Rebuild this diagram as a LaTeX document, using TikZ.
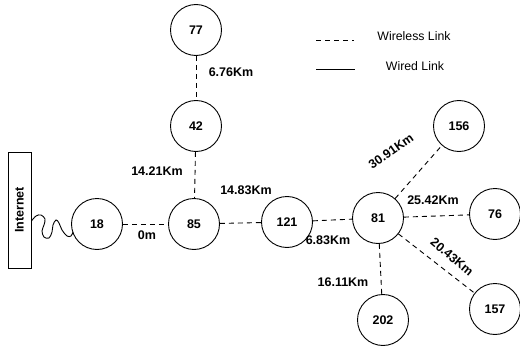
\documentclass[tikz,border=0pt]{standalone}
\usepackage{fontspec}
\setmainfont{Liberation Sans}
\usetikzlibrary{calc}
\begin{document}
\begin{tikzpicture}[x=1pt,y=1pt,
  station/.style={circle,draw,line width=0.9pt,minimum size=51pt,inner sep=0pt,font=\fontsize{12.5}{14}\selectfont\bfseries},
  wireless/.style={line width=0.9pt,dash pattern=on 5pt off 4pt},
  wired/.style={line width=0.9pt},
  dist/.style={font=\fontsize{12.5}{14}\selectfont\bfseries,inner sep=0pt},
  legendtext/.style={font=\fontsize{12.3}{14}\selectfont,inner sep=0pt}]
\useasboundingbox (0,0) rectangle (520,349);

% Internet gateway box
\node[draw,line width=0.9pt,minimum width=23pt,minimum height=116pt,inner sep=0pt] (inet) at (19.5,139) {};
\node[rotate=90,dist] (inetlabel) at (inet.center) {Internet};

% stations
\node[station] (n77)  at (196,319) {77};
\node[station] (n42)  at (196,223) {42};
\node[station] (n85)  at (194,125) {85};
\node[station] (n18)  at (97,125)  {18};
\node[station] (n121) at (287,127) {121};
\node[station] (n81)  at (378,131) {81};
\node[station] (n156) at (459,223) {156};
\node[station] (n76)  at (495,135) {76};
\node[station] (n157) at (495,40)  {157};
\node[station] (n202) at (383,29)  {202};

% wired link from the gateway to node 18
\coordinate (wa) at (inet.east |- 0,128);
\coordinate (wb) at ($(n18.center)+(-24,-8)$);
\draw[wired] plot[smooth,tension=0.6] coordinates {(wa) (36,133) (41,134) (45,130) (44,124) (42,118) (44,112) (49,111) (52,117) (53,124) (56,129) (59,126) (62,119) (67,113) (71,113) (wb)};

% wireless links
\draw[wireless] (n77) -- (n42);
\draw[wireless] (n42) -- (n85);
\draw[wireless] (n18) -- (n85);
\draw[wireless] (n85) -- (n121);
\draw[wireless] (n121) -- (n81);
\draw[wireless] (n81) -- (n156);
\draw[wireless] (n81) -- (n76);
\draw[wireless] (n81) -- (n157);
\draw[wireless] (n81) -- (n202);

% distances
\node[dist] (d1) at (231,277) {6.76Km};
\node[dist] (d2) at (157,178) {14.21Km};
\node[dist] (d3) at (246,159) {14.83Km};
\node[dist] (d4) at (147,114) {0m};
\node[dist] (d5) at (328,109) {6.83Km};
\node[dist,rotate=35] (d6) at (391,198) {30.91Km};
\node[dist] (d7) at (433,149) {25.42Km};
\node[dist,rotate=-40] (d8) at (452,92) {20.43Km};
\node[dist] (d9) at (343,67) {16.11Km};

% legend
\coordinate (la) at (316,309);
\coordinate (lb) at (354,309);
\coordinate (lc) at (316,280);
\coordinate (ld) at (355,280);
\draw[wireless] (la) -- (lb);
\draw[wired] (lc) -- (ld);
\node[legendtext] (l1) at (414,313) {Wireless Link};
\node[legendtext] (l2) at (415,283) {Wired Link};
\end{tikzpicture}
\end{document}
